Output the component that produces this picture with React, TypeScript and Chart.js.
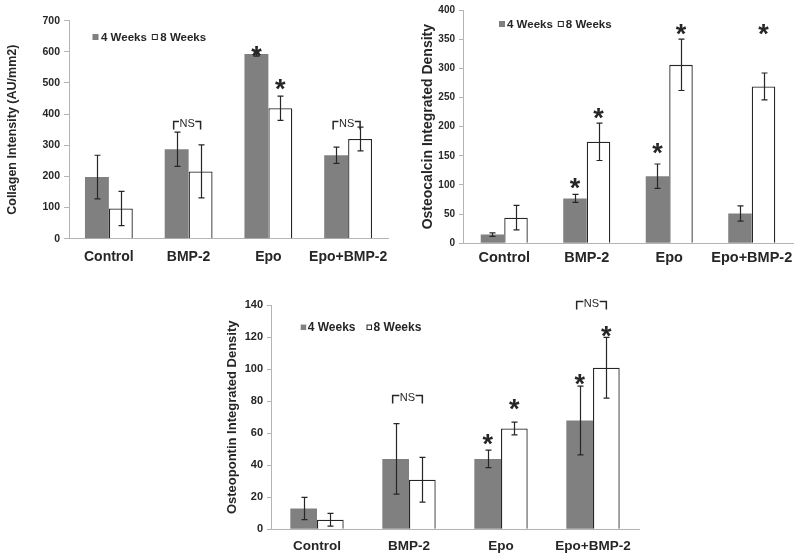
import React, { useEffect, useRef } from 'react';
import { Chart, registerables } from 'chart.js';

Chart.register(...registerables);

// ---------- data ----------
const categories = ['Control', 'BMP-2', 'Epo', 'Epo+BMP-2'];
const seriesLabels = ['4 Weeks', '8 Weeks'];

const collagen4 = [198, 287, 593, 268];
const collagen4Err = [70, 55, 7, 26];
const collagen8 = [97, 216, 419, 320];
const collagen8Err = [55, 85, 39, 38];

const osteocalcin4 = [15, 77, 115, 51];
const osteocalcin4Err = [3, 7, 21, 13];
const osteocalcin8 = [44, 174, 306, 269];
const osteocalcin8Err = [21, 32, 44, 23];

const osteopontin4 = [13, 44, 44, 68];
const osteopontin4Err = [7, 22, 5.5, 21.5];
const osteopontin8 = [6, 31, 63, 101];
const osteopontin8Err = [4, 14, 4, 19];

// significance marks: [category index, series index, y value]
const collagenStars = [[2, 0, 606], [2, 1, 500]];
const collagenNS = [[1, 378], [3, 378]];
const osteocalcinStars = [[1, 0, 105], [1, 1, 225], [2, 0, 165], [2, 1, 370], [3, 1, 370]];
const osteocalcinNS: number[][] = [];
const osteopontinStars = [[2, 0, 57], [2, 1, 79], [3, 0, 95], [3, 1, 125]];
const osteopontinNS = [[1, 84], [3, 143]];

// ---------- styles ----------
const FONT = "Arial, 'Liberation Sans', Helvetica, sans-serif";
const GRAY = '#808080';
const DARK = '#262626';
const AXIS = '#b4b4b4';

type Spec = {
  pos: { left: number; top: number; width: number; height: number };
  area: { left: number; top: number; right: number; bottom: number };
  yMax: number;
  yStep: number;
  s4: number[];
  e4: number[];
  s8: number[];
  e8: number[];
  title: string;
  titleSize: number;
  titleCenter: number;
  tickSize: number;
  tickLen: number;
  catSize: number;
  catCenterOffset: number;
  catPct: number;
  legend: { x: number; y: number; box: number; gap: number; spacing: number; size: number };
  stars: number[][];
  ns: number[][];
};

const specs: Spec[] = [
  {
    pos: { left: 0, top: 0, width: 400, height: 270 },
    area: { left: 69, top: 20.7, right: 388, bottom: 238.7 },
    yMax: 700,
    yStep: 100,
    s4: collagen4,
    e4: collagen4Err,
    s8: collagen8,
    e8: collagen8Err,
    title: 'Collagen Intensity (AU/mm2)',
    titleSize: 12.5,
    titleCenter: 13,
    tickSize: 10.5,
    tickLen: 5,
    catSize: 14,
    catCenterOffset: 18,
    catPct: 0.6,
    legend: { x: 92.5, y: 37, box: 6, gap: 2.5, spacing: 5, size: 11.5 },
    stars: collagenStars,
    ns: collagenNS,
  },
  {
    pos: { left: 400, top: 0, width: 400, height: 270 },
    area: { left: 63, top: 9.3, right: 393, bottom: 243.3 },
    yMax: 400,
    yStep: 50,
    s4: osteocalcin4,
    e4: osteocalcin4Err,
    s8: osteocalcin8,
    e8: osteocalcin8Err,
    title: 'Osteocalcin Integrated Density',
    titleSize: 14,
    titleCenter: 28,
    tickSize: 10,
    tickLen: 4,
    catSize: 14.5,
    catCenterOffset: 15,
    catPct: 0.57,
    legend: { x: 99, y: 24, box: 6, gap: 2, spacing: 5, size: 11.5 },
    stars: osteocalcinStars,
    ns: osteocalcinNS,
  },
  {
    pos: { left: 180, top: 278, width: 480, height: 280 },
    area: { left: 91, top: 27.3, right: 459, bottom: 251.3 },
    yMax: 140,
    yStep: 20,
    s4: osteopontin4,
    e4: osteopontin4Err,
    s8: osteopontin8,
    e8: osteopontin8Err,
    title: 'Osteopontin Integrated Density',
    titleSize: 13,
    titleCenter: 52.5,
    tickSize: 11,
    tickLen: 4,
    catSize: 13.5,
    catCenterOffset: 17.4,
    catPct: 0.58,
    legend: { x: 120.7, y: 49.3, box: 5.5, gap: 1.5, spacing: 11, size: 12 },
    stars: osteopontinStars,
    ns: osteopontinNS,
  },
];

function makePlugins(spec: Spec) {
  const errors = [spec.e4, spec.e8];
  const errorBars = {
    id: 'errorBars',
    afterDatasetsDraw(chart: any) {
      const ctx = chart.ctx;
      const ys = chart.scales.y;
      ctx.save();
      ctx.strokeStyle = DARK;
      ctx.lineWidth = 1.2;
      chart.data.datasets.forEach((ds: any, di: number) => {
        const meta = chart.getDatasetMeta(di);
        meta.data.forEach((bar: any, i: number) => {
          const v = ds.data[i];
          const e = errors[di][i];
          const x = Math.round(bar.x) + 0.5;
          const yt = ys.getPixelForValue(v + e);
          const yb = ys.getPixelForValue(v - e);
          ctx.beginPath();
          ctx.moveTo(x, yt);
          ctx.lineTo(x, yb);
          ctx.moveTo(x - 3, yt);
          ctx.lineTo(x + 3, yt);
          ctx.moveTo(x - 3, yb);
          ctx.lineTo(x + 3, yb);
          ctx.stroke();
        });
      });
      ctx.restore();
    },
  };
  const marks = {
    id: 'marks',
    afterDatasetsDraw(chart: any) {
      const ctx = chart.ctx;
      const ys = chart.scales.y;
      ctx.save();
      ctx.fillStyle = DARK;
      ctx.strokeStyle = DARK;
      const starSize = 27;
      ctx.font = `bold ${starSize}px ${FONT}`;
      ctx.textAlign = 'center';
      ctx.textBaseline = 'alphabetic';
      spec.stars.forEach(([c, s, v]) => {
        const bar = chart.getDatasetMeta(s).data[c];
        const py = ys.getPixelForValue(v);
        ctx.fillText('*', bar.x, py + starSize * 0.57);
      });
      ctx.font = `11px ${FONT}`;
      ctx.textBaseline = 'middle';
      ctx.lineWidth = 1.5;
      spec.ns.forEach(([c, v]) => {
        const b0 = chart.getDatasetMeta(0).data[c];
        const b1 = chart.getDatasetMeta(1).data[c];
        const py = Math.round(ys.getPixelForValue(v)) + 0.5;
        const x0 = b0.x - 3;
        const x1 = b1.x;
        const cx = (x0 + x1) / 2;
        const tw = ctx.measureText('NS').width;
        ctx.fillText('NS', cx, py + 2);
        ctx.beginPath();
        ctx.moveTo(x0, py + 8);
        ctx.lineTo(x0, py);
        ctx.lineTo(cx - tw / 2 - 0.5, py);
        ctx.moveTo(cx + tw / 2 + 0.5, py);
        ctx.lineTo(x1, py);
        ctx.lineTo(x1, py + 8);
        ctx.stroke();
      });
      ctx.restore();
    },
  };
  const legendBoxes = {
    id: 'legendBoxes',
    afterDraw(chart: any) {
      const ctx = chart.ctx;
      const L = spec.legend;
      ctx.save();
      ctx.font = `bold ${L.size}px ${FONT}`;
      ctx.textBaseline = 'middle';
      ctx.textAlign = 'left';
      let x = L.x;
      chart.data.datasets.forEach((ds: any) => {
        const b = L.box;
        ctx.fillStyle = ds.backgroundColor;
        ctx.fillRect(x, L.y - b / 2, b, b);
        if (ds.backgroundColor === '#ffffff') {
          ctx.strokeStyle = DARK;
          ctx.lineWidth = 1;
          ctx.strokeRect(x + 0.5, L.y - b / 2 + 0.5, b - 1, b - 1);
        }
        x += b + L.gap;
        ctx.fillStyle = DARK;
        ctx.fillText(ds.label, x, L.y + 0.5);
        x += ctx.measureText(ds.label).width + L.spacing;
      });
      ctx.restore();
    },
  };
  return [errorBars, marks, legendBoxes];
}

function BarPanel({ spec }: { spec: Spec }) {
  const ref = useRef<HTMLCanvasElement | null>(null);
  useEffect(() => {
    if (!ref.current) return;
    const { area, pos } = spec;
    const catPad = spec.catCenterOffset - spec.catSize * 0.6;
    const chart = new Chart(ref.current, {
      type: 'bar',
      data: {
        labels: categories,
        datasets: [
          {
            label: seriesLabels[0],
            data: spec.s4,
            backgroundColor: GRAY,
            borderWidth: 0,
            categoryPercentage: spec.catPct,
            barPercentage: 1,
          },
          {
            label: seriesLabels[1],
            data: spec.s8,
            backgroundColor: '#ffffff',
            borderColor: DARK,
            borderWidth: 1.3,
            categoryPercentage: spec.catPct,
            barPercentage: 1,
          },
        ],
      },
      options: {
        responsive: false,
        animation: false,
        devicePixelRatio: 1,
        layout: { padding: { left: 0, top: area.top, right: pos.width - area.right, bottom: 0 } },
        plugins: { legend: { display: false }, tooltip: { enabled: false } },
        scales: {
          x: {
            grid: { display: false, drawTicks: false },
            border: { display: true, color: AXIS, width: 1 },
            ticks: {
              font: { family: FONT, size: spec.catSize, weight: 'bold' },
              color: DARK,
              padding: catPad,
              maxRotation: 0,
              minRotation: 0,
              autoSkip: false,
            },
            afterFit: (s: any) => {
              s.height = pos.height - area.bottom;
            },
          },
          y: {
            min: 0,
            max: spec.yMax,
            ticks: { stepSize: spec.yStep, font: { family: FONT, size: spec.tickSize, weight: 'bold' }, color: DARK, padding: 4 },
            grid: { drawOnChartArea: false, drawTicks: true, tickLength: spec.tickLen, color: AXIS },
            border: { display: true, color: AXIS, width: 1 },
            title: {
              display: true,
              text: spec.title,
              color: DARK,
              font: { family: FONT, size: spec.titleSize, weight: 'bold' },
              padding: { top: spec.titleCenter - spec.titleSize * 0.6, bottom: 0 },
            },
            afterFit: (s: any) => {
              s.width = area.left;
            },
          },
        },
      } as any,
      plugins: makePlugins(spec),
    });
    return () => chart.destroy();
  }, [spec]);
  const { pos } = spec;
  return (
    <canvas
      ref={ref}
      width={pos.width}
      height={pos.height}
      style={{ position: 'absolute', left: pos.left, top: pos.top, width: pos.width, height: pos.height }}
    />
  );
}

export default function App() {
  return (
    <div style={{ position: 'fixed', left: 0, top: 0, width: 800, height: 558, background: '#ffffff', overflow: 'hidden' }}>
      {specs.map((s, i) => (
        <BarPanel key={i} spec={s} />
      ))}
    </div>
  );
}
